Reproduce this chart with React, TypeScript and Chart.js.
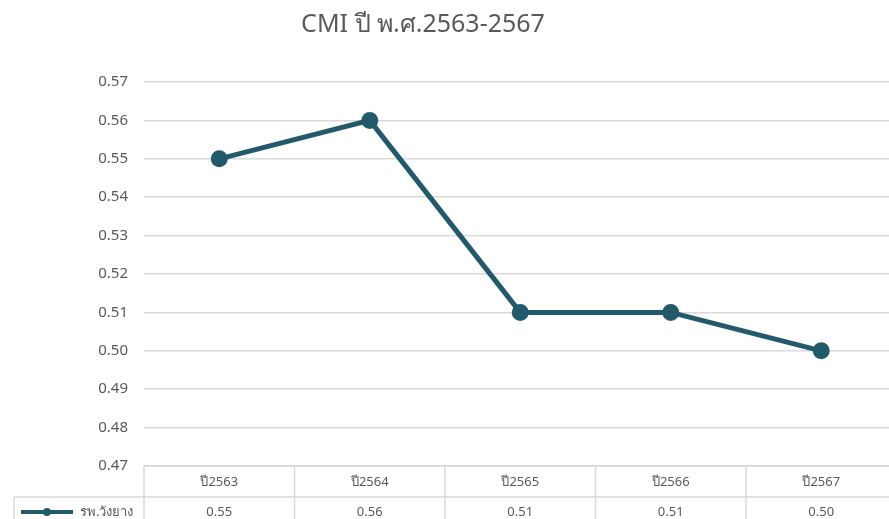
import React, { useEffect, useRef } from "react";
import { Chart, registerables } from "chart.js";

Chart.register(...registerables);

const TITLE = "CMI ปี พ.ศ.2563-2567";
const SERIES_NAME = "รพ.วังยาง";
const CATEGORIES = ["ปี2563", "ปี2564", "ปี2565", "ปี2566", "ปี2567"];
const VALUES = [0.55, 0.56, 0.51, 0.51, 0.5];
const VALUE_LABELS = ["0.55", "0.56", "0.51", "0.51", "0.50"];
const Y_MIN = 0.47;
const Y_MAX = 0.57;
const Y_STEP = 0.01;

const FONT = "'Noto Sans', 'Open Sans', sans-serif";
const TEXT = "#595959";
const GRID = "#d9d9d9";
const LINE = "#235a6b";

const tablePlugin = {
  id: "dataTable",
  afterDraw(chart: any) {
    const ctx = chart.ctx as CanvasRenderingContext2D;
    const area = chart.chartArea;
    const xs = chart.scales.x;
    const n = CATEGORIES.length;
    const colW = (area.right - area.left) / n;
    const top = area.bottom;
    const mid = top + 31;
    const bottom = chart.height + 10;
    const legendLeft = 14;
    ctx.save();
    ctx.strokeStyle = GRID;
    ctx.lineWidth = 1.5;
    ctx.beginPath();
    ctx.moveTo(area.left, top);
    ctx.lineTo(chart.width, top);
    ctx.moveTo(legendLeft, mid);
    ctx.lineTo(chart.width, mid);
    ctx.stroke();
    ctx.beginPath();
    for (let i = 0; i <= n; i++) {
      const x = area.left + i * colW;
      ctx.moveTo(x, top);
      ctx.lineTo(x, bottom);
    }
    ctx.moveTo(legendLeft, mid);
    ctx.lineTo(legendLeft, bottom);
    ctx.stroke();
    ctx.fillStyle = TEXT;
    ctx.font = `13px ${FONT}`;
    ctx.textAlign = "center";
    ctx.textBaseline = "middle";
    for (let i = 0; i < n; i++) {
      const cx = xs.getPixelForValue(i);
      ctx.fillText(CATEGORIES[i], cx, (top + mid) / 2 + 1);
      ctx.fillText(VALUE_LABELS[i], cx, mid + 15);
    }
    const ly = mid + 15;
    ctx.strokeStyle = LINE;
    ctx.lineWidth = 4;
    ctx.beginPath();
    ctx.moveTo(21, ly);
    ctx.lineTo(73, ly);
    ctx.stroke();
    ctx.fillStyle = LINE;
    ctx.beginPath();
    ctx.arc(47, ly, 4, 0, Math.PI * 2);
    ctx.fill();
    ctx.fillStyle = TEXT;
    ctx.textAlign = "left";
    ctx.fillText(SERIES_NAME, 80, ly);
    ctx.font = `25px ${FONT}`;
    ctx.textAlign = "center";
    ctx.fillStyle = TEXT;
    ctx.fillText(TITLE, 423, 25);
    ctx.restore();
  },
};

export default function App() {
  const ref = useRef<HTMLCanvasElement | null>(null);
  useEffect(() => {
    if (!ref.current) return;
    const chart = new Chart(ref.current, {
      type: "line",
      data: {
        labels: CATEGORIES,
        datasets: [
          {
            label: SERIES_NAME,
            data: VALUES,
            borderColor: LINE,
            backgroundColor: LINE,
            borderWidth: 5,
            pointRadius: 6,
            pointHoverRadius: 6,
            pointBackgroundColor: LINE,
            pointBorderColor: LINE,
            tension: 0,
          },
        ],
      },
      options: {
        responsive: false,
        animation: false,
        layout: { autoPadding: false, padding: { top: 82, bottom: 53, right: 3.5, left: 0 } },
        plugins: {
          legend: { display: false },
          title: { display: false },
          tooltip: { enabled: false },
        },
        scales: {
          x: { display: false, offset: true, ticks: { display: false } },
          y: {
            min: Y_MIN,
            max: Y_MAX,
            border: { display: false },
            grid: { color: GRID, lineWidth: 1.5, drawTicks: false },
            ticks: {
              stepSize: Y_STEP,
              padding: 16,
              color: TEXT,
              font: { family: FONT, size: 15 },
              callback: (v: any) => Number(v).toFixed(2),
            },
            afterFit: (s: any) => {
              s.width = 144;
            },
          },
        },
      },
      plugins: [tablePlugin],
    });
    return () => chart.destroy();
  }, []);
  return (
    <div
      style={{
        position: "fixed",
        left: 0,
        top: 0,
        width: 889,
        height: 519,
        overflow: "hidden",
        background: "#fff",
      }}
    >
      <canvas ref={ref} width={900} height={519} style={{ width: 900, height: 519, display: "block" }} />
    </div>
  );
}
